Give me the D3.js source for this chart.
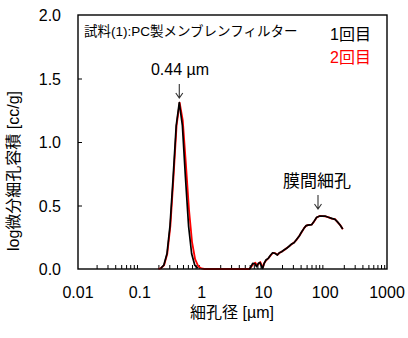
<!DOCTYPE html>
<html><head><meta charset="utf-8">
<script src="https://cdn.jsdelivr.net/npm/d3@7"></script>
<style>
html,body{margin:0;padding:0;background:#fff;}
text{font-family:"Liberation Sans","Noto Sans CJK JP",sans-serif;}
</style></head>
<body>
<svg id="chart" width="408" height="338"></svg>
<script>
// ---- data ----
const xTickValues = [0.01, 0.1, 1, 10, 100, 1000];
const xTickLabels = ["0.01", "0.1", "1", "10", "100", "1000"];
const yTickValues = [0, 0.5, 1.0, 1.5, 2.0];
const yTickLabels = ["0.0", "0.5", "1.0", "1.5", "2.0"];

// 1回目 (black); null = gap in the curve
const run1Size = [0.218, 0.245, 0.275, 0.308, 0.346, 0.388, 0.4355, 0.489, 0.548, 0.615, 0.690, 0.774, 0.869, null,
  5.9, 6.07, 6.71, 7.31, 7.78, 8.28, 8.81, 9.38, 9.73, 10.2, 11.0, 12.0, 13.1, 14.1, 15.4, 16.8, 18.1, 19.8, 21.5,
  23.8, 26.3, 28.7, 31.3, 34.6, 38.1, 41.7, 45.4, 48.9, 53.3, 60.4, 65.9, 72.8, 82.4, 99.3, 112, 127, 144, 157, 174, 192];
const run1Value = [0.006, 0.031, 0.12, 0.34, 0.72, 1.128, 1.31, 1.128, 0.72, 0.34, 0.12, 0.031, 0.006, null,
  0, 0.005, 0.045, 0.04, 0.018, 0.045, 0.05, 0.018, 0.005, 0.04, 0.071, 0.084, 0.11, 0.128, 0.123, 0.11, 0.128, 0.136, 0.15,
  0.163, 0.181, 0.197, 0.207, 0.234, 0.26, 0.294, 0.32, 0.341, 0.346, 0.349, 0.375, 0.407, 0.417, 0.417, 0.407, 0.399, 0.391, 0.373, 0.346, 0.315];

// 2回目 (red)
const run2Size = [0.2, 0.221, 0.248, 0.2786, 0.3126, 0.351, 0.3936, 0.4416, 0.4955, 0.556, 0.624, 0.700, 0.785, 0.881, 0.989, 1.11,
  5.9, 6.2, 6.8, 7.4, 7.9, 8.4, 8.9, 9.4, 9.8, 10.3, 11.1, 12.1, 13.2, 14.2, 15.5, 16.9, 18.2, 19.9, 21.6,
  23.9, 26.4, 28.8, 31.4, 34.7, 38.2, 41.8, 45.5, 49.0, 53.4, 60.5, 66.0, 72.9, 82.5, 99.4, 112, 127, 144, 157, 174, 193];
const run2Value = [0, 0.006, 0.031, 0.12, 0.34, 0.72, 1.128, 1.31, 1.17, 0.832, 0.472, 0.214, 0.077, 0.022, 0.005, 0,
  0, 0.01, 0.035, 0.05, 0.03, 0.04, 0.055, 0.03, 0.01, 0.045, 0.068, 0.086, 0.108, 0.126, 0.125, 0.112, 0.126, 0.138, 0.148,
  0.165, 0.18, 0.196, 0.209, 0.232, 0.262, 0.292, 0.322, 0.34, 0.348, 0.35, 0.373, 0.405, 0.419, 0.415, 0.409, 0.397, 0.393, 0.371, 0.348, 0.313];

// ---- layout ----
const svg = d3.select("#chart");
const m = {left: 78, top: 15, right: 21, bottom: 69};
const W = 408 - m.left - m.right, H = 338 - m.top - m.bottom;
const x = d3.scaleLog().domain([0.01, 1000]).range([m.left, m.left + W]);
const y = d3.scaleLinear().domain([0, 2]).range([m.top + H, m.top]);

// minor ticks (inside, on bottom)
const minor = [];
for (let e = -2; e < 3; e++) for (let k = 2; k <= 9; k++) minor.push(k * Math.pow(10, e));

const xAxis = d3.axisBottom(x).tickValues(minor).tickSize(-4).tickFormat("");
const gx = svg.append("g").attr("transform", `translate(0,${m.top + H})`).call(xAxis);
gx.select(".domain").remove();
gx.selectAll("line").attr("stroke", "#000").attr("stroke-width", 1);

const yAxis = d3.axisLeft(y).tickValues(yTickValues.filter(v => v > 0 && v < 2)).tickSize(-4).tickFormat("");
const gy = svg.append("g").attr("transform", `translate(${m.left},0)`).call(yAxis);
gy.select(".domain").remove();
gy.selectAll("line").attr("stroke", "#000").attr("stroke-width", 1);

// tick labels
svg.append("g").selectAll("text").data(xTickValues).join("text")
  .attr("x", d => x(d)).attr("y", m.top + H + 29)
  .attr("text-anchor", "middle").attr("font-size", 16).attr("fill", "#000")
  .text((d, i) => xTickLabels[i]);
svg.append("g").selectAll("text").data(yTickValues).join("text")
  .attr("x", m.left - 17).attr("y", d => y(d) + 6)
  .attr("text-anchor", "end").attr("font-size", 16).attr("fill", "#000")
  .text((d, i) => yTickLabels[i]);

// axis titles
svg.append("text").attr("x", 232).attr("y", 318).attr("text-anchor", "middle")
  .attr("font-size", 16).text("細孔径 [µm]");
svg.append("text").attr("transform", "translate(19,171) rotate(-90)").attr("text-anchor", "middle")
  .attr("font-size", 16).text("log微分細孔容積 [cc/g]");

// lines
const toPts = (xs, ys) => xs.map((v, i) => ({x: v, y: ys[i]}));
const line = d3.line().defined(d => d.x != null && d.y != null).x(d => x(d.x)).y(d => y(d.y));
svg.append("path").datum(toPts(run2Size, run2Value)).attr("d", line)
  .attr("fill", "none").attr("stroke", "#ff0000").attr("stroke-width", 1.8).attr("stroke-linejoin", "round");
svg.append("path").datum(toPts(run1Size, run1Value)).attr("d", line)
  .attr("fill", "none").attr("stroke", "#000").attr("stroke-width", 1.7).attr("stroke-linejoin", "round");

// frame
svg.append("rect").attr("x", m.left).attr("y", m.top).attr("width", W).attr("height", H)
  .attr("fill", "none").attr("stroke", "#000").attr("stroke-width", 1.4);

// annotations
svg.append("text").attr("x", 84).attr("y", 36).attr("font-size", 13.5).text("試料(1):PC製メンブレンフィルター");
svg.append("text").attr("x", 330).attr("y", 40).attr("font-size", 16).attr("fill", "#000").text("1回目");
svg.append("text").attr("x", 330).attr("y", 63).attr("font-size", 16).attr("fill", "#ff0000").text("2回目");
svg.append("text").attr("x", 180).attr("y", 75).attr("text-anchor", "middle").attr("font-size", 16).text("0.44 µm");
svg.append("text").attr("x", 317).attr("y", 187).attr("text-anchor", "middle").attr("font-size", 17).text("膜間細孔");

function arrow(cx, y0, y1) {
  svg.append("path").attr("d", `M${cx},${y0}V${y1}M${cx - 3.5},${y1 - 5}L${cx},${y1}L${cx + 3.5},${y1 - 5}`)
    .attr("fill", "none").attr("stroke", "#333").attr("stroke-width", 1.1);
}
arrow(x(0.4355), 84, 98);
arrow(318, 195, 209);
</script>
</body></html>
